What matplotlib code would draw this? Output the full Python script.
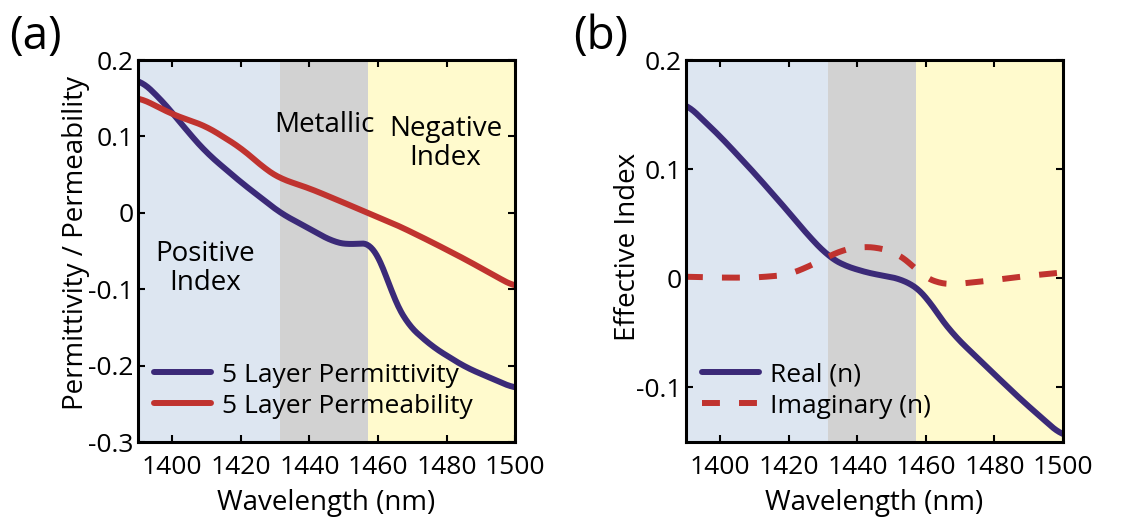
import numpy as np
import matplotlib
matplotlib.use("Agg")
import matplotlib.pyplot as plt

plt.rcParams['font.family'] = ['Open Sans', 'DejaVu Sans']

# ---------------- DATA ----------------
# (a) 5 layer permittivity / permeability
wl_eps = [1390.3, 1395.7, 1400, 1405.3, 1410.1, 1420, 1427.5, 1431.4, 1440.1,
          1446.9, 1451.7, 1456.5, 1458.9, 1461.4, 1464.3, 1468.1, 1475.8,
          1485.5, 1500]
permittivity = [0.175, 0.153, 0.131, 0.102, 0.078, 0.040, 0.014, 0.0, -0.021,
                -0.038, -0.042, -0.039, -0.041, -0.070, -0.109, -0.144,
                -0.175, -0.202, -0.230]

wl_mu = [1390.3, 1400, 1410, 1420, 1427.5, 1431.4, 1440, 1447, 1457, 1466,
         1476, 1485.5, 1500]
permeability = [0.151, 0.129, 0.113, 0.085, 0.056, 0.045, 0.032, 0.019, 0.0,
                -0.017, -0.039, -0.061, -0.097]

# (b) effective index
wl_re = [1389.7, 1400, 1409.8, 1419.6, 1426, 1431.6, 1435.8, 1443.6, 1449.5,
         1453.4, 1456.9, 1459.8, 1463.2, 1468.1, 1478, 1487.7, 1500]
n_real = [0.161, 0.130, 0.097, 0.062, 0.038, 0.020, 0.012, 0.0045, 0.0015,
          -0.0015, -0.0076, -0.015, -0.032, -0.052, -0.082, -0.111, -0.145]

wl_im = [1389.7, 1400, 1409.8, 1419.6, 1426, 1431.6, 1435.8, 1440.7, 1446.6,
         1451.5, 1455.4, 1458.8, 1463.2, 1468.1, 1478, 1487.7, 1500]
n_imag = [0.0015, 0.0006, 0.0006, 0.003, 0.011, 0.020, 0.026, 0.029, 0.028,
          0.023, 0.014, 0.003, -0.0045, -0.0055, -0.0024, 0.0015, 0.0055]

# region boundaries (nm)
regions = [(1390, 1431.5, "#dde6f1"), (1431.5, 1457, "#d2d2d2"),
           (1457, 1500, "#fffacd")]

purple = "#3b2a78"
red = "#c0332f"


def smooth(x, y, n=400):
    xs = np.linspace(min(x), max(x), n)
    ys = np.interp(xs, x, y)
    k = 12
    pad = np.pad(ys, k, mode="edge")
    ys = np.convolve(pad, np.ones(2 * k + 1) / (2 * k + 1), mode="same")[k:-k]
    return xs, ys


def style_axes(ax, ylim, yticks, ytlabels):
    for x0, x1, c in regions:
        ax.axvspan(x0, x1, color=c, lw=0, zorder=0)
    ax.set_xlim(1390, 1500)
    ax.set_ylim(*ylim)
    ax.set_xticks([1400, 1420, 1440, 1460, 1480, 1500])
    ax.set_yticks(yticks)
    ax.set_yticklabels(ytlabels)
    ax.tick_params(direction="in", top=True, right=True, length=5,
                   width=1.5, labelsize=19)
    ax.tick_params(axis="x", pad=9)
    ax.tick_params(axis="y", pad=3)
    for s in ax.spines.values():
        s.set_linewidth(2.2)
    ax.set_xlabel("Wavelength (nm)", fontsize=20, labelpad=7)


fig = plt.figure(figsize=(11.37, 5.31), dpi=100)

# ---------------- (a) ----------------
ax1 = fig.add_axes([0.1214, 0.1676, 0.3316, 0.7194])
style_axes(ax1, (-0.3, 0.2), [-0.3, -0.2, -0.1, 0, 0.1, 0.2],
           ["-0.3", "-0.2", "-0.1", "0", "0.1", "0.2"])
x, y = smooth(wl_eps, permittivity)
ax1.plot(x, y, color=purple, lw=4.3, solid_capstyle="round",
         label="5 Layer Permittivity")
x, y = smooth(wl_mu, permeability)
ax1.plot(x, y, color=red, lw=4.3, solid_capstyle="round",
         label="5 Layer Permeability")
ax1.set_ylabel("Permittivity / Permeability", fontsize=20)
ax1.yaxis.set_label_coords(-0.127, 0.521)
ax1.text(1444.3, 0.115, "Metallic", fontsize=20, ha="center", va="center")
ax1.text(1479.7, 0.091, "Negative\nIndex", fontsize=20, ha="center",
         va="center", linespacing=1.05)
ax1.text(1409.6, -0.073, "Positive\nIndex", fontsize=20, ha="center",
         va="center", linespacing=1.05)
ax1.legend(loc="lower left", bbox_to_anchor=(0.0, 0.02), frameon=False,
           fontsize=19, handlelength=2.15, handletextpad=0.45,
           labelspacing=0.22, borderaxespad=0.2)
fig.text(0.008, 0.93, "(a)", fontsize=33, va="center")

# ---------------- (b) ----------------
ax2 = fig.add_axes([0.6033, 0.1676, 0.3316, 0.7194])
style_axes(ax2, (-0.15, 0.2), [-0.1, 0, 0.1, 0.2],
           ["-0.1", "0", "0.1", "0.2"])
x, y = smooth(wl_re, n_real)
ax2.plot(x, y, color=purple, lw=4.3, solid_capstyle="round", label="Real (n)")
x, y = smooth(wl_im, n_imag)
ax2.plot(x, y, color=red, lw=4.3, ls=(0, (3, 3.2)), label="Imaginary (n)")
ax2.set_ylabel("Effective Index", fontsize=20)
ax2.yaxis.set_label_coords(-0.117, 0.51)
ax2.legend(loc="lower left", bbox_to_anchor=(0.0, 0.02), frameon=False,
           fontsize=19, handlelength=2.15, handletextpad=0.45,
           labelspacing=0.22, borderaxespad=0.2)
fig.text(0.504, 0.93, "(b)", fontsize=33, va="center")

fig.savefig("out.png", dpi=100)
